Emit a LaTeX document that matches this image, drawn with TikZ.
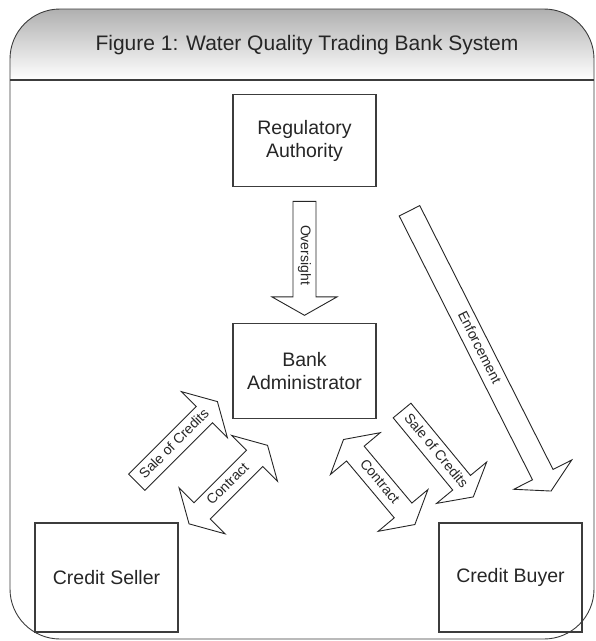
\documentclass[tikz,border=0pt]{standalone}
\usepackage{fontspec}
\setmainfont{Liberation Sans}
\usetikzlibrary{positioning, shapes.arrows, calc}
\definecolor{FrameGray}{HTML}{3C3C3C}
\definecolor{HeadGray}{HTML}{B0B0B0}

\begin{document}
\begin{tikzpicture}[x=1pt, y=-1pt,
        partybox/.style={draw=FrameGray, line width=1.1pt, minimum width=143pt, minimum height=92pt, align=center, text=black!85, font=\fontsize{19.5}{23}\selectfont},
        flowarrow/.style={single arrow, draw=black!85, line width=0.9pt, fill=white, text=black!85, font=\fontsize{14}{16}\selectfont, text height=10.5pt, text depth=3pt, inner xsep=2pt, inner ysep=4.3pt, single arrow head extend=21pt, single arrow tip angle=121},
        swaparrow/.style={double arrow, draw=black!85, line width=0.9pt, fill=white, text=black!85, font=\fontsize{14}{16}\selectfont, text height=10.5pt, text depth=3pt, inner xsep=2pt, inner ysep=4.3pt, double arrow head extend=21pt, double arrow tip angle=121}
    ]
    \useasboundingbox (0,0) rectangle (596,641);

    % frame and title band
    \begin{scope}
        \clip[rounded corners=50pt] (10,9) rectangle (594,639);
        \shade[top color=HeadGray, bottom color=white] (10,9) rectangle (594,80);
    \end{scope}
    \draw[FrameGray, line width=0.9pt, rounded corners=50pt] (10,9) rectangle (594,639);
    \draw[FrameGray, line width=1.2pt] (10,80) -- (594,80);
    \node[text=black!85, font=\fontsize{21}{25}\selectfont] (title) at (307,45) {Figure 1: Water Quality Trading Bank System};

    % parties
    \node[partybox] (reg) at (304.5,140.5) {Regulatory\\Authority};
    \node[partybox, below=136pt of reg, minimum height=95pt] (bank) {Bank\\Administrator};
    \node[partybox, minimum height=109pt] (seller) at (106.5,577.5) {Credit Seller};
    \node[partybox, minimum height=109pt] (buyer) at (510.5,577.5) {Credit Buyer};

    % flows
    \node[flowarrow, rotate=-90, minimum height=114pt] (oversight) at ($(reg.south)!0.5!(bank.north)$) {Oversight};
    \node[flowarrow, rotate=-63.2, minimum height=314pt] (enforce) at (478.8,348) {Enforcement};
    \node[flowarrow, rotate=45, minimum height=114pt] (salel) at (174.8,444.2) {Sale of Credits};
    \node[swaparrow, rotate=45, minimum height=111pt] (contractl) at (228.3,484.6) {Contract};
    \node[flowarrow, rotate=-50.5, minimum height=112pt] (saler) at (435.6,451.2) {Sale of Credits};
    \node[swaparrow, rotate=-50, minimum height=111pt] (contractr) at (379.2,482) {Contract};

\end{tikzpicture}
\end{document}
